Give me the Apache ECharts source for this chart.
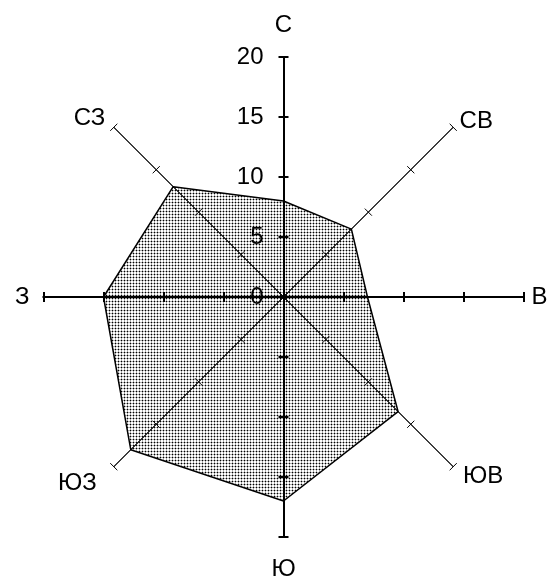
<!DOCTYPE html>
<html>
<head>
<meta charset="utf-8">
<script src="https://cdn.jsdelivr.net/npm/echarts@6/dist/echarts.min.js"></script>
<style>
html,body{margin:0;padding:0;background:#fff;}
#chart{width:552px;height:580px;}
</style>
</head>
<body>
<div id="chart"></div>
<script>
// направления (против часовой стрелки от севера, как строит radar)
var directions = ["С", "СЗ", "З", "ЮЗ", "Ю", "ЮВ", "В", "СВ"];
var windValues = [8, 13, 15, 18, 17, 13.5, 7, 8];
var axisMin = 0;
var axisMax = 20;
var axisSplit = 4; // 0,5,10,15,20
var nameGaps = [20, 12, 14, 24, 20, 14, 8, 9];

// точечная заливка
var pat = document.createElement("canvas");
pat.width = 3;
pat.height = 3;
var pctx = pat.getContext("2d");
pctx.fillStyle = "rgba(0,0,0,0.33)";
pctx.fillRect(0, 1, 3, 1);
pctx.fillRect(1, 0, 1, 3);
pctx.fillStyle = "#000";
pctx.fillRect(1, 1, 1, 1);

function indicators(withLabels) {
	return directions.map(function (d, i) {
		var main = i % 2 === 0;
		return {
			name: d,
			min: axisMin,
			max: axisMax,
			nameGap: nameGaps[i],
			axisLine: { lineStyle: { width: main ? 2 : 1 } },
			axisTick: { lineStyle: { width: main ? 2 : 1 } },
			axisLabel: { show: withLabels && i === 0 }
		};
	});
}

function radarBase(tickLen, withLabels) {
	return {
		center: [283.5, 297],
		radius: 240,
		startAngle: 90,
		splitNumber: axisSplit,
		shape: "polygon",
		indicator: indicators(withLabels),
		axisName: {
			show: withLabels,
			color: "#000",
			fontFamily: "Liberation Sans",
			fontSize: 24
		},
		axisLine: { show: true, lineStyle: { color: "#000", width: 1 } },
		axisTick: { show: true, length: tickLen, lineStyle: { color: "#000", width: 1.5 } },
		axisLabel: {
			show: false,
			color: "#000",
			fontFamily: "Liberation Sans",
			fontSize: 24,
			margin: 20
		},
		splitLine: { show: false },
		splitArea: { show: false }
	};
}

var myChart = echarts.init(document.getElementById("chart"));
myChart.setOption({
	animation: false,
	backgroundColor: "#fff",
	radar: [radarBase(5, true), radarBase(-5, false)],
	series: [{
		type: "radar",
		radarIndex: 0,
		symbol: "none",
		lineStyle: { color: "#000", width: 1.5 },
		areaStyle: { color: { image: pat, repeat: "repeat" }, opacity: 1 },
		data: [{ value: windValues }]
	}]
});
</script>
</body>
</html>
